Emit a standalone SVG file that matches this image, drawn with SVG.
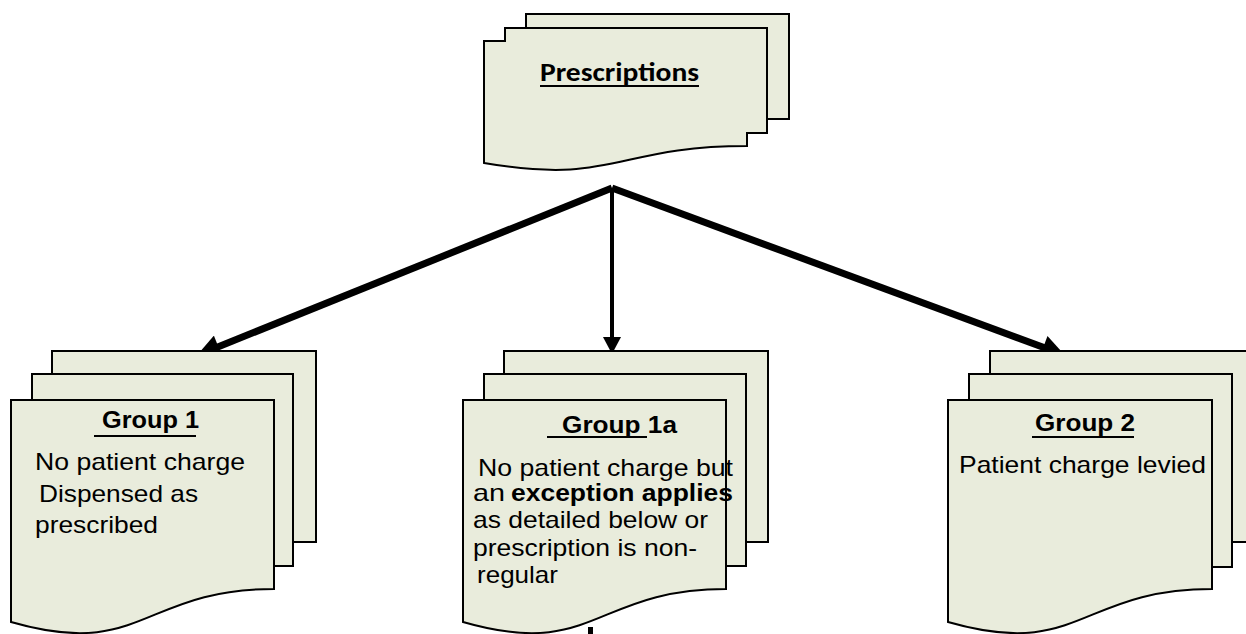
<svg xmlns="http://www.w3.org/2000/svg" width="1246" height="634" viewBox="0 0 1246 634">
<style>
.pg{fill:#E9ECDC;stroke:#000;stroke-width:2;stroke-linejoin:miter}
.t{font-family:"Liberation Sans",Arial,sans-serif;font-size:24px;fill:#000}
.b{font-weight:bold}
.h{font-size:23px}
.ttl{font-family:Carlito,Lato,"Open Sans",sans-serif;font-weight:bold;font-size:26px;fill:#000}
.ul{stroke:#000;stroke-width:2}
.c{stroke:#000;fill:none}
</style>
<defs>
<marker id="ah" markerUnits="userSpaceOnUse" markerWidth="24" markerHeight="24" refX="10" refY="12" orient="auto" viewBox="0 0 23 24">
<path d="M0,0 L23,12 L0,24 Z" fill="#000"/>
</marker>
<marker id="ahs" markerUnits="userSpaceOnUse" markerWidth="17" markerHeight="18" refX="9" refY="9" orient="auto" viewBox="0 0 17 18">
<path d="M0,0 L17,9 L0,18 Z" fill="#000"/>
</marker>
</defs>

<g id="connectors">
<line class="c" x1="612" y1="188" x2="209.1" y2="350.5" stroke-width="7" marker-end="url(#ah)"/>
<line class="c" x1="612" y1="188" x2="1052.7" y2="350.8" stroke-width="7" marker-end="url(#ah)"/>
<line class="c" x1="612" y1="188" x2="612" y2="346" stroke-width="4" marker-end="url(#ahs)"/>
<line class="c" x1="590.5" y1="627" x2="590.5" y2="640" stroke-width="5"/>
</g>

<g id="prescriptions">
<rect class="pg" x="526" y="14" width="263" height="105"/>
<path class="pg" d="M484,163 L484,41 L505,41 L505,28 L767,28 L767,133 L747,133 L747,146 C615.5,146 615.5,185.5 484,163 Z"/>
<text class="ttl" x="540" y="81" textLength="159" lengthAdjust="spacingAndGlyphs">Prescriptions</text>
<line class="ul" x1="540" y1="86" x2="699" y2="86"/>
</g>

<g id="group1">
<rect class="pg" x="52" y="351" width="264" height="191"/>
<rect class="pg" x="32" y="374" width="261" height="192"/>
<path class="pg" d="M11,622 L11,400 L274,400 L274,589 C142.5,589 142.5,660 11,622 Z"/>
<text class="t b h" x="102" y="428" textLength="97" lengthAdjust="spacingAndGlyphs">Group 1</text>
<line class="ul" x1="94" y1="436" x2="196" y2="436"/>
<text class="t" x="35" y="470" textLength="210" lengthAdjust="spacingAndGlyphs">No patient charge</text>
<text class="t" x="39" y="502" textLength="159" lengthAdjust="spacingAndGlyphs">Dispensed as</text>
<text class="t" x="35" y="533" textLength="123" lengthAdjust="spacingAndGlyphs">prescribed</text>
</g>

<g id="group1a">
<rect class="pg" x="504" y="351" width="264" height="191"/>
<rect class="pg" x="484" y="374" width="262" height="192"/>
<path class="pg" d="M463,622 L463,400 L726,400 L726,589 C594.5,589 594.5,660 463,622 Z"/>
<text class="t b h" x="562" y="433" textLength="115" lengthAdjust="spacingAndGlyphs">Group 1a</text>
<line class="ul" x1="547" y1="437" x2="647" y2="437"/>
<text class="t" x="478" y="476" textLength="255" lengthAdjust="spacingAndGlyphs">No patient charge but</text>
<text class="t" x="473" y="501" textLength="32" lengthAdjust="spacingAndGlyphs">an</text>
<text class="t b" x="511" y="501" textLength="222" lengthAdjust="spacingAndGlyphs">exception applies</text>
<text class="t" x="473" y="528" textLength="235" lengthAdjust="spacingAndGlyphs">as detailed below or</text>
<text class="t" x="473" y="556" textLength="224" lengthAdjust="spacingAndGlyphs">prescription is non-</text>
<text class="t" x="477" y="583" textLength="81" lengthAdjust="spacingAndGlyphs">regular</text>
</g>

<g id="group2">
<rect class="pg" x="990" y="351" width="270" height="191"/>
<rect class="pg" x="969" y="374" width="263" height="193"/>
<path class="pg" d="M948,622 L948,400 L1212,400 L1212,589 C1080,589 1080,660 948,622 Z"/>
<text class="t b h" x="1035" y="431" textLength="100" lengthAdjust="spacingAndGlyphs">Group 2</text>
<line class="ul" x1="1032" y1="437" x2="1134" y2="437"/>
<text class="t" x="959" y="473" textLength="247" lengthAdjust="spacingAndGlyphs">Patient charge levied</text>
</g>
</svg>
